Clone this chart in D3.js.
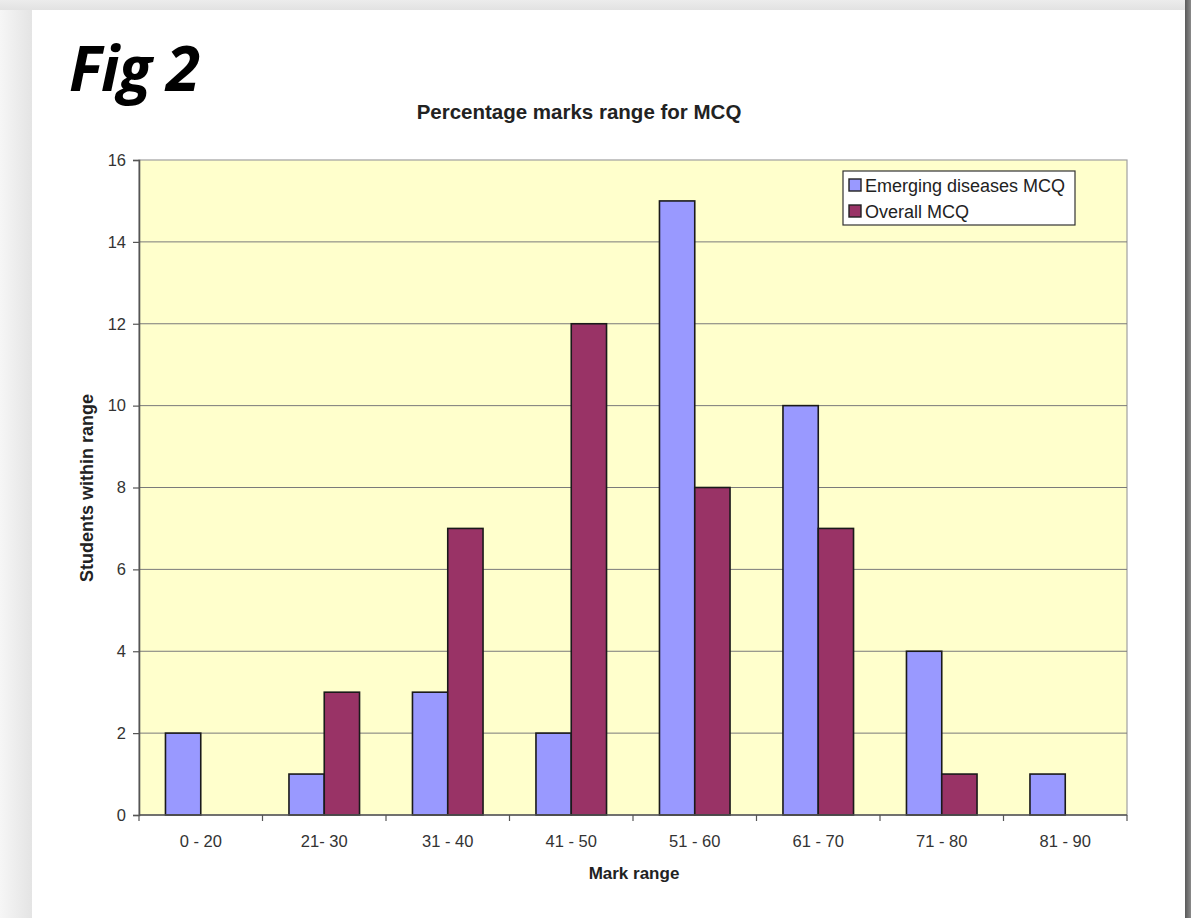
<!DOCTYPE html>
<html>
<head>
<meta charset="utf-8">
<script src="https://cdn.jsdelivr.net/npm/d3@7"></script>
<style>
  html, body { margin: 0; padding: 0; background: #fff; }
  svg { display: block; }
</style>
</head>
<body>
<svg id="chart" width="1191" height="918"></svg>
<script>
// Mark ranges and number of students in each range
const categories = ["0 - 20", "21- 30", "31 - 40", "41 - 50", "51 - 60", "61 - 70", "71 - 80", "81 - 90"];
const seriesNames = ["Emerging diseases MCQ", "Overall MCQ"];
const emergingValues = [2, 1, 3, 2, 15, 10, 4, 1];
const overallValues = [0, 3, 7, 12, 8, 7, 1, 0];
const yTicks = [0, 2, 4, 6, 8, 10, 12, 14, 16];
const seriesColors = ["#9999FF", "#993366"];

const svg = d3.select("#chart");
const W = 1191, H = 918;

// Page backdrop: grey frame with soft shading round the white sheet
const defs = svg.append("defs");
const gl = defs.append("linearGradient").attr("id", "leftShade").attr("x1", 0).attr("x2", 1);
gl.append("stop").attr("offset", 0).attr("stop-color", "#f6f6f6");
gl.append("stop").attr("offset", 1).attr("stop-color", "#e4e4e4");
const gr = defs.append("linearGradient").attr("id", "rightShade").attr("x1", 0).attr("x2", 1);
gr.append("stop").attr("offset", 0).attr("stop-color", "#5a5a5a");
gr.append("stop").attr("offset", 1).attr("stop-color", "#8a8a8a");
const gt = defs.append("linearGradient").attr("id", "topShade").attr("x1", 0).attr("x2", 0).attr("y1", 0).attr("y2", 1);
gt.append("stop").attr("offset", 0).attr("stop-color", "#ececec");
gt.append("stop").attr("offset", 1).attr("stop-color", "#e2e2e2");

svg.append("rect").attr("x", 0).attr("y", 0).attr("width", W).attr("height", H).attr("fill", "#eeeeee");
svg.append("rect").attr("x", 0).attr("y", 0).attr("width", 32).attr("height", H).attr("fill", "url(#leftShade)");
svg.append("rect").attr("x", 0).attr("y", 0).attr("width", W).attr("height", 10).attr("fill", "url(#topShade)");
svg.append("rect").attr("x", 1185).attr("y", 0).attr("width", 6).attr("height", H).attr("fill", "url(#rightShade)");
svg.append("rect").attr("x", 32).attr("y", 10).attr("width", 1153).attr("height", H - 10).attr("fill", "#ffffff");

// Figure label
svg.append("text")
  .attr("x", 69).attr("y", 91)
  .attr("font-family", "'Open Sans', Lato, sans-serif")
  .attr("font-size", 62).attr("font-weight", 700).attr("font-style", "italic")
  .attr("letter-spacing", -1)
  .attr("fill", "#000")
  .text("Fig 2");

// Plot area
const plot = { left: 139, right: 1127, top: 160, bottom: 815 };

const x0 = d3.scaleBand().domain(categories).range([plot.left, plot.right]).paddingInner(0).paddingOuter(0);
// Two bars per group with a gap of 1.5 bar widths shared between groups
const x1 = d3.scaleBand().domain(seriesNames).range([0, x0.bandwidth()]).paddingInner(0).paddingOuter(0.75);
const y = d3.scaleLinear().domain([0, 16]).range([plot.bottom, plot.top]);

const g = svg.append("g");

g.append("rect")
  .attr("x", plot.left).attr("y", plot.top)
  .attr("width", plot.right - plot.left).attr("height", plot.bottom - plot.top)
  .attr("fill", "#FFFFCC").attr("stroke", "#a0a0a0").attr("stroke-width", 1.2);

// Horizontal gridlines
g.append("g").selectAll("line")
  .data(yTicks.filter(d => d > 0 && d < 16))
  .join("line")
  .attr("x1", plot.left).attr("x2", plot.right)
  .attr("y1", d => y(d)).attr("y2", d => y(d))
  .attr("stroke", "#7a7a7a").attr("stroke-width", 1);

// Bars
const rows = categories.map((c, i) => ({ cat: c, vals: [emergingValues[i], overallValues[i]] }));
const groups = g.append("g").selectAll("g")
  .data(rows).join("g")
  .attr("transform", d => `translate(${x0(d.cat)},0)`);
groups.selectAll("rect")
  .data(d => d.vals.map((v, j) => ({ name: seriesNames[j], v, j })).filter(e => e.v > 0))
  .join("rect")
  .attr("x", d => x1(d.name))
  .attr("y", d => y(d.v))
  .attr("width", x1.bandwidth())
  .attr("height", d => y(0) - y(d.v))
  .attr("fill", d => seriesColors[d.j])
  .attr("stroke", "#1a1a1a").attr("stroke-width", 1.6);

// Y axis
const yAxis = d3.axisLeft(y).tickValues(yTicks).tickSize(6).tickPadding(7).tickFormat(d3.format("d"));
const yg = g.append("g").attr("transform", `translate(${plot.left},0)`).call(yAxis);
yg.select(".domain").attr("stroke", "#555").attr("stroke-width", 1.6);
yg.selectAll(".tick line").attr("stroke", "#555").attr("stroke-width", 1.2);
yg.selectAll(".tick text").attr("font-family", "Arial, 'Liberation Sans', sans-serif").attr("font-size", 16.5).attr("fill", "#333");

// X axis: ticks at group boundaries, labels centred under each group
const xg = g.append("g").attr("transform", `translate(0,${plot.bottom})`);
xg.append("line").attr("x1", plot.left).attr("x2", plot.right).attr("y1", 0).attr("y2", 0)
  .attr("stroke", "#555").attr("stroke-width", 1.6);
const boundaries = categories.map(c => x0(c)).concat([plot.right]);
xg.selectAll("line.tk").data(boundaries).join("line").attr("class", "tk")
  .attr("x1", d => d).attr("x2", d => d).attr("y1", 0).attr("y2", 6)
  .attr("stroke", "#555").attr("stroke-width", 1.2);
xg.selectAll("text").data(categories).join("text")
  .attr("x", d => x0(d) + x0.bandwidth() / 2)
  .attr("y", 32)
  .attr("text-anchor", "middle")
  .attr("font-family", "Arial, 'Liberation Sans', sans-serif").attr("font-size", 16.5).attr("fill", "#333")
  .text(d => d);

// Titles
svg.append("text")
  .attr("x", 579).attr("y", 119).attr("text-anchor", "middle")
  .attr("font-family", "Arial, 'Liberation Sans', sans-serif").attr("font-size", 20.5).attr("font-weight", 700).attr("fill", "#222")
  .text("Percentage marks range for MCQ");
svg.append("text")
  .attr("x", 634).attr("y", 879).attr("text-anchor", "middle")
  .attr("font-family", "Arial, 'Liberation Sans', sans-serif").attr("font-size", 17).attr("font-weight", 700).attr("fill", "#222")
  .text("Mark range");
svg.append("text")
  .attr("transform", "translate(93,488) rotate(-90)").attr("text-anchor", "middle")
  .attr("font-family", "Arial, 'Liberation Sans', sans-serif").attr("font-size", 18).attr("font-weight", 700).attr("fill", "#222")
  .text("Students within range");

// Legend
const lg = svg.append("g").attr("transform", "translate(843,171)");
lg.append("rect").attr("x", 0).attr("y", 0).attr("width", 232).attr("height", 54)
  .attr("fill", "#fff").attr("stroke", "#333").attr("stroke-width", 1.2);
const items = lg.selectAll("g.item").data(seriesNames).join("g").attr("class", "item")
  .attr("transform", (d, i) => `translate(6,${8 + i * 26})`);
items.append("rect").attr("width", 12).attr("height", 12)
  .attr("fill", (d, i) => seriesColors[i]).attr("stroke", "#222").attr("stroke-width", 1.4);
items.append("text").attr("x", 16).attr("y", 12.5)
  .attr("font-family", "Arial, 'Liberation Sans', sans-serif").attr("font-size", 18).attr("fill", "#222")
  .text(d => d);
</script>
</body>
</html>
